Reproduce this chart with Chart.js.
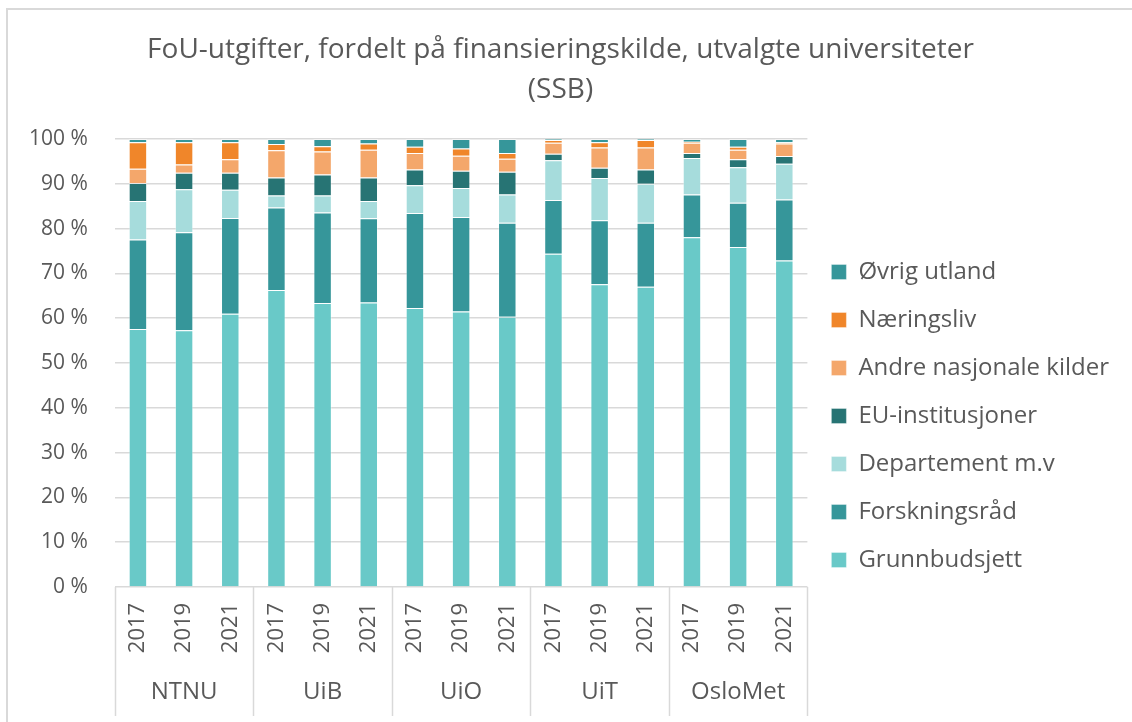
<!DOCTYPE html>
<html>
<head>
<meta charset="utf-8">
<script src="https://cdn.jsdelivr.net/npm/chart.js@4"></script>
<style>
html, body { margin: 0; padding: 0; background: #fff; }
#wrap { position: relative; width: 1132px; height: 722px; overflow: hidden; }
#frame { position: absolute; left: 6px; top: 8px; width: 1200px; height: 800px; border: 2px solid #d9d9d9; box-sizing: border-box; pointer-events: none; }
</style>
</head>
<body>
<div id="wrap">
  <canvas id="fou-chart" width="1132" height="722"></canvas>
  <div id="frame"></div>
</div>
<script>
// data (percent of total R&D spend)
var groups = ['NTNU', 'UiB', 'UiO', 'UiT', 'OsloMet'];
var years = ['2017', '2019', '2021'];
var yTicks = [0, 10, 20, 30, 40, 50, 60, 70, 80, 90, 100];

var grunnbudsjett = [57.6, 57.3, 61.0, 66.3, 63.4, 63.5, 62.3, 61.5, 60.3, 74.4, 67.6, 67.0, 78.1, 75.9, 72.9];
var forskningsrad = [20.0, 21.9, 21.4, 18.4, 20.2, 18.8, 21.2, 21.1, 21.0, 12.0, 14.3, 14.3, 9.5, 9.9, 13.6];
var departement   = [8.6, 9.6, 6.3, 2.7, 3.8, 3.9, 6.2, 6.5, 6.3, 8.9, 9.4, 8.7, 8.2, 7.9, 8.0];
var euInst        = [4.0, 3.7, 3.8, 4.0, 4.7, 5.2, 3.5, 3.8, 5.1, 1.4, 2.3, 3.2, 1.1, 1.8, 1.7];
var andreNasj     = [3.2, 1.8, 3.0, 6.1, 5.1, 6.2, 3.7, 3.4, 2.9, 2.5, 4.5, 4.9, 2.3, 2.1, 2.8];
var naeringsliv   = [5.9, 5.0, 3.8, 1.4, 1.2, 1.4, 1.4, 1.6, 1.3, 0.6, 1.2, 1.7, 0.2, 0.7, 0.3];
var ovrigUtland   = [0.7, 0.7, 0.7, 1.1, 1.6, 1.0, 1.7, 2.1, 3.1, 0.2, 0.7, 0.2, 0.6, 1.7, 0.7];

var yearLabels = [];
groups.forEach(function () {
  years.forEach(function (y) { yearLabels.push(y); });
});

var textColor = '#595959';
var gridColor = '#d9d9d9';
var fontFamily = '"Open Sans", sans-serif';

function series(label, data, color) {
  return {
    label: label,
    data: data,
    backgroundColor: color,
    borderColor: 'rgba(255,255,255,0.35)',
    borderWidth: 1,
    barPercentage: 0.4,
    categoryPercentage: 1.0
  };
}

// vertical separators between the university groups, placed from the x scale
var groupLines = {
  id: 'groupLines',
  afterDraw: function (chart) {
    var x = chart.scales.x, x2 = chart.scales.x2, ctx = chart.ctx;
    var step = x.getPixelForValue(1) - x.getPixelForValue(0);
    var start = x.getPixelForValue(0) - step / 2;
    ctx.save();
    ctx.strokeStyle = gridColor;
    ctx.lineWidth = 1.5;
    for (var i = 0; i <= yearLabels.length; i += years.length) {
      var px = Math.round(start + i * step) + 0.5;
      ctx.beginPath();
      ctx.moveTo(px, x.top);
      ctx.lineTo(px, x2.bottom);
      ctx.stroke();
    }
    ctx.restore();
  }
};

var fouChart = new Chart(document.getElementById('fou-chart'), {
  type: 'bar',
  data: {
    labels: yearLabels,
    datasets: [
      series('Grunnbudsjett', grunnbudsjett, '#69c9c8'),
      series('Forskningsråd', forskningsrad, '#36969a'),
      series('Departement m.v', departement, '#a6dcdc'),
      series('EU-institusjoner', euInst, '#277474'),
      series('Andre nasjonale kilder', andreNasj, '#f4a76b'),
      series('Næringsliv', naeringsliv, '#f0862a'),
      series('Øvrig utland', ovrigUtland, '#36969a')
    ]
  },
  options: {
    responsive: false,
    animation: false,
    layout: { padding: { left: 2, right: 13, bottom: 6 } },
    plugins: {
      title: {
        display: true,
        text: ['FoU-utgifter, fordelt på finansieringskilde, utvalgte universiteter', '(SSB)'],
        color: textColor,
        font: { family: fontFamily, size: 28, weight: 'normal', lineHeight: 1.43 },
        padding: { top: 30, bottom: 29 }
      },
      legend: {
        position: 'right',
        reverse: true,
        maxWidth: 340,
        title: {
          display: true,
          text: ' ',
          font: { size: 10, lineHeight: 1.2 },
          padding: { top: 52, bottom: 52 }
        },
        labels: {
          boxWidth: 15,
          boxHeight: 15,
          padding: 24,
          color: textColor,
          font: { family: fontFamily, size: 24 }
        }
      },
      tooltip: { enabled: false }
    },
    scales: {
      x: {
        stacked: true,
        grid: { display: false },
        border: { display: false },
        ticks: {
          autoSkip: false,
          minRotation: 90,
          maxRotation: 90,
          padding: 8,
          color: textColor,
          font: { family: fontFamily, size: 22 }
        }
      },
      x2: {
        type: 'category',
        labels: groups,
        offset: true,
        grid: { display: false },
        border: { display: false },
        ticks: {
          padding: 9,
          color: textColor,
          font: { family: fontFamily, size: 24 }
        }
      },
      y: {
        stacked: true,
        min: 0,
        max: 100,
        afterBuildTicks: function (axis) {
          axis.ticks = yTicks.map(function (v) { return { value: v }; });
        },
        grid: { color: gridColor, lineWidth: 1.5, drawTicks: false },
        border: { display: false },
        ticks: {
          padding: 27,
          color: textColor,
          font: { family: fontFamily, size: 21 },
          callback: function (v) { return v + ' %'; }
        }
      }
    }
  },
  plugins: [groupLines]
});
</script>
</body>
</html>
